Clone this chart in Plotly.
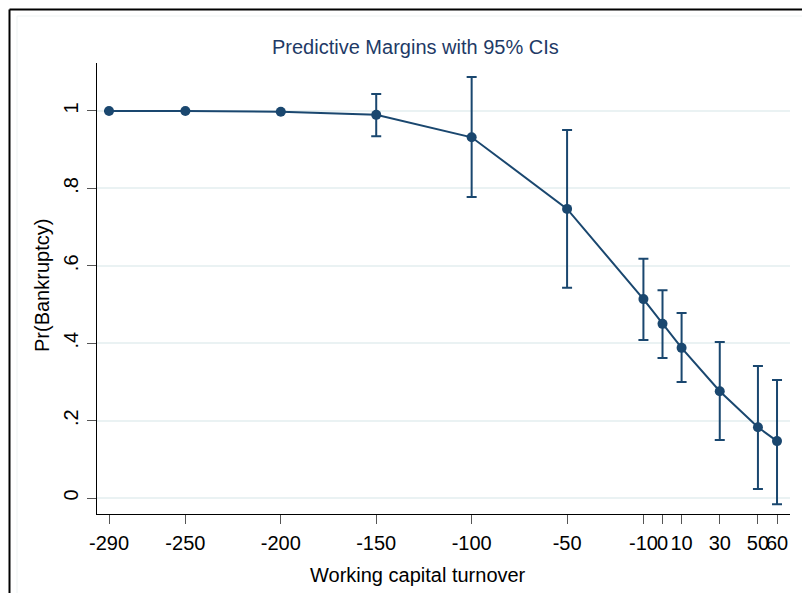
import plotly.graph_objects as go

# Data
x_vals = [-290, -250, -200, -150, -100, -50, -10, 0, 10, 30, 50, 60]
margin = [1.000, 1.000, 0.998, 0.990, 0.932, 0.747, 0.514, 0.450, 0.388, 0.276, 0.183, 0.147]
ci_low = [1.000, 1.000, 0.998, 0.935, 0.778, 0.543, 0.408, 0.362, 0.300, 0.150, 0.023, -0.016]
ci_high = [1.000, 1.000, 0.998, 1.044, 1.088, 0.951, 0.618, 0.537, 0.478, 0.403, 0.341, 0.305]
x_ticks = [-290, -250, -200, -150, -100, -50, -10, 0, 10, 30, 50, 60]
x_ticklabels = [str(v) for v in x_ticks]
y_ticks = [0, 0.2, 0.4, 0.6, 0.8, 1.0]
y_ticklabels = ["0", ".2", ".4", ".6", ".8", "1"]

W, H = 810, 593
OFF = 8  # page body margin offset
L, R, T, B = 97 - OFF, 790 - OFF, 63 - OFF, 514 - OFF


def px(xp):
    return (xp - OFF - L) / (R - L)


def py(yp):
    return (B - (yp - OFF)) / (B - T)


navy = "#1a476f"
err_plus = [h - m for h, m in zip(ci_high, margin)]
err_minus = [m - l for m, l in zip(margin, ci_low)]
has_ci = [h - l > 0.005 for h, l in zip(ci_high, ci_low)]
err_plus = [e if c else 0 for e, c in zip(err_plus, has_ci)]
err_minus = [e if c else 0 for e, c in zip(err_minus, has_ci)]

fig = go.Figure()
fig.add_trace(go.Scatter(
    x=x_vals, y=margin, mode="lines+markers",
    line=dict(color=navy, width=2),
    marker=dict(color=navy, size=10),
    error_y=dict(type="data", symmetric=False, array=err_plus, arrayminus=err_minus,
                 color=navy, thickness=2, width=5),
    showlegend=False,
))

font_family = "Liberation Sans, Arial, sans-serif"
FS = 20

fig.update_layout(
    width=W, height=H,
    margin=dict(l=L, r=W - R, t=T, b=H - B),
    paper_bgcolor="white", plot_bgcolor="white",
    font=dict(family=font_family, size=FS, color="black"),
    xaxis=dict(
        range=[-296.3, 66.8], tickmode="array", tickvals=x_ticks, ticktext=x_ticklabels,
        showgrid=False, zeroline=False, showline=True, linecolor="black", linewidth=1,
        ticks="outside", ticklen=9, tickcolor="#555555", tickwidth=1, tickangle=0,
        tickfont=dict(size=FS, color="black"), ticklabelstandoff=2,
    ),
    yaxis=dict(
        range=[-0.0413, 1.1240], tickmode="array", tickvals=y_ticks, ticktext=y_ticklabels,
        showgrid=True, gridcolor="#eaf2f3", gridwidth=1.5, zeroline=False,
        showline=True, linecolor="black", linewidth=1,
        ticks="outside", ticklen=9, tickcolor="#555555", tickwidth=1,
        tickangle=-90, tickfont=dict(size=FS, color="black"), ticklabelstandoff=1,
    ),
    annotations=[
        dict(text="Predictive Margins with 95% CIs", xref="paper", yref="paper",
             x=px(415), y=py(47), showarrow=False, xanchor="center", yanchor="middle",
             font=dict(size=FS, color="#1e3a66", family=font_family)),
        dict(text="Working capital turnover", xref="paper", yref="paper",
             x=px(418), y=py(575), showarrow=False, xanchor="center", yanchor="middle",
             font=dict(size=FS, color="black", family=font_family)),
        dict(text="Pr(Bankruptcy)", xref="paper", yref="paper",
             x=px(42), y=py(286), showarrow=False, xanchor="center", yanchor="middle",
             textangle=-90, font=dict(size=FS, color="black", family=font_family)),
    ],
    shapes=[
        # faint inner frame
        dict(type="line", xref="paper", yref="paper", x0=px(17), x1=px(830), y0=py(16), y1=py(16),
             line=dict(color="#eef3f3", width=1)),
        dict(type="line", xref="paper", yref="paper", x0=px(17), x1=px(17), y0=py(16), y1=py(620),
             line=dict(color="#eef3f3", width=1)),
        # outer graph frame
        dict(type="line", xref="paper", yref="paper", x0=px(9.5), x1=px(830), y0=py(9.5), y1=py(9.5),
             line=dict(color="black", width=2)),
        dict(type="line", xref="paper", yref="paper", x0=px(9.5), x1=px(9.5), y0=py(9.5), y1=py(620),
             line=dict(color="black", width=2)),
        dict(type="line", xref="paper", yref="paper", x0=px(8), x1=px(830), y0=py(7.5), y1=py(7.5),
             line=dict(color="#bbbbbb", width=1)),
    ],
)

fig.write_html("out.html")
